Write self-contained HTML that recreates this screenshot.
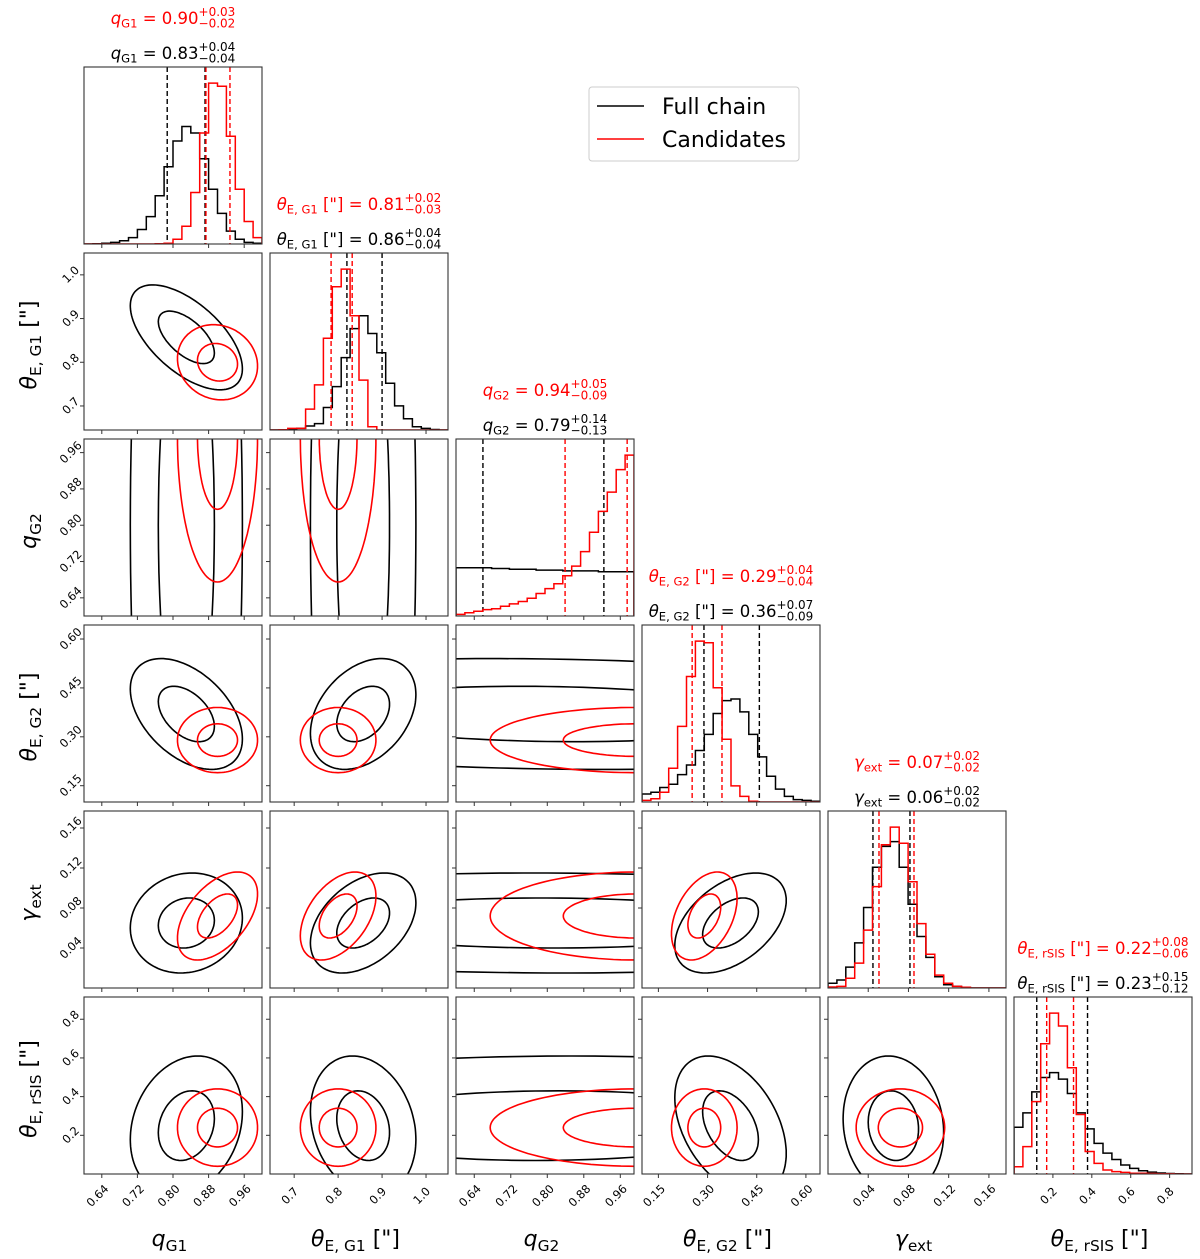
<!DOCTYPE html>
<html><head><meta charset="utf-8"><style>
body{margin:0;background:#fff}
svg{display:block;font-family:"DejaVu Sans","Liberation Sans",sans-serif}
</style></head><body>
<svg id="chart" width="1200" height="1259" viewBox="0 0 1200 1259" xmlns="http://www.w3.org/2000/svg"></svg>
<script>
// ---- data ----
const paramNames = ["qG1","thetaE_G1","qG2","thetaE_G2","gamma_ext","thetaE_rSIS"];
const ranges = [[0.6,1.0],[0.645,1.05],[0.6,0.99],[0.10,0.643],[0.0,0.177],[0.0,0.915]];
const ticks = [[0.64,0.72,0.80,0.88,0.96],[0.7,0.8,0.9,1.0],[0.64,0.72,0.80,0.88,0.96],[0.15,0.30,0.45,0.60],[0.04,0.08,0.12,0.16],[0.2,0.4,0.6,0.8]];
const tickLabels = [["0.64","0.72","0.80","0.88","0.96"],["0.7","0.8","0.9","1.0"],["0.64","0.72","0.80","0.88","0.96"],["0.15","0.30","0.45","0.60"],["0.04","0.08","0.12","0.16"],["0.2","0.4","0.6","0.8"]];
const histBlack = [
 [0,0.002,0.005,0.01,0.02,0.04,0.09,0.17,0.30,0.48,0.64,0.73,0.69,0.53,0.34,0.19,0.08,0.03,0.01,0.005],
 [0,0,0.002,0.01,0.025,0.04,0.14,0.27,0.45,0.63,0.71,0.60,0.48,0.29,0.15,0.07,0.02,0.01,0.003,0],
 [0.30,0.30,0.30,0.30,0.295,0.295,0.29,0.29,0.29,0.285,0.285,0.285,0.28,0.28,0.28,0.28,0.275,0.275,0.275,0.275],
 [0.05,0.06,0.09,0.11,0.17,0.23,0.32,0.42,0.55,0.63,0.64,0.56,0.42,0.28,0.16,0.08,0.035,0.015,0.01,0.005],
 [0.03,0.05,0.13,0.28,0.50,0.75,0.88,0.91,0.75,0.52,0.32,0.19,0.07,0.02,0.01,0.003,0,0,0,0],
 [0.29,0.38,0.51,0.60,0.63,0.59,0.50,0.38,0.28,0.19,0.13,0.09,0.056,0.035,0.02,0.012,0.006,0.003,0.001,0]
];
const histRed = [
 [0,0,0,0,0,0,0,0,0.002,0.005,0.03,0.11,0.32,0.69,1.0,0.98,0.67,0.34,0.14,0.04],
 [0,0.002,0.01,0.01,0.13,0.28,0.57,0.89,1.0,0.71,0.31,0.02,0,0,0,0,0,0,0,0],
 [0.01,0.02,0.03,0.04,0.045,0.06,0.075,0.09,0.11,0.14,0.17,0.20,0.25,0.31,0.40,0.52,0.65,0.77,0.91,1.0],
 [0.01,0.02,0.06,0.21,0.47,0.78,1.0,0.99,0.71,0.39,0.10,0.035,0.005,0,0,0,0,0,0,0],
 [0.006,0.01,0.06,0.155,0.36,0.63,0.89,1.0,0.90,0.66,0.40,0.21,0.08,0.03,0.01,0.005,0,0,0,0],
 [0.045,0.17,0.45,0.81,1.0,0.92,0.66,0.37,0.14,0.066,0.025,0.015,0.01,0.005,0.005,0.003,0.002,0.001,0,0]
];
const linesBlack = [[0.787,0.872],[0.820,0.900],[0.659,0.924],[0.289,0.458],[0.0447,0.0815],[0.117,0.378]];
const linesRed = [[0.874,0.928],[0.784,0.832],[0.839,0.975],[0.253,0.344],[0.0507,0.0855],[0.168,0.306]];
const titleValues = [["0.83","+0.04","−0.04","0.90","+0.03","−0.02"],["0.86","+0.04","−0.04","0.81","+0.02","−0.03"],["0.79","+0.14","−0.13","0.94","+0.05","−0.09"],["0.36","+0.07","−0.09","0.29","+0.04","−0.04"],["0.06","+0.02","−0.02","0.07","+0.02","−0.02"],["0.23","+0.15","−0.12","0.22","+0.08","−0.06"]];
const contourMeanBlack = [0.83,0.857,0.80,0.37,0.065,0.25];
const contourSigBlack = [0.063,0.06,0.5,0.085,0.025,0.18];
const contourMeanRed = [0.90,0.80,0.995,0.29,0.072,0.24];
const contourSigRed = [0.045,0.043,0.16,0.05,0.022,0.1];
const rhoBlack = {"0-1":-0.6,"0-2":0,"0-3":-0.45,"0-4":0.1,"0-5":0.2,"1-2":0,"1-3":0.35,"1-4":0.4,"1-5":-0.2,"2-3":-0.12,"2-4":-0.03,"2-5":0.05,"3-4":0.45,"3-5":-0.4,"4-5":-0.1};
const rhoRed = {"0-1":-0.1,"0-2":0,"0-3":0,"0-4":0.5,"0-5":0,"1-2":0,"1-3":0,"1-4":0.45,"1-5":0,"2-3":0,"2-4":0,"2-5":0,"3-4":0.4,"3-5":0,"4-5":0};
const contourLevels = [1,2];

// ---- layout ----
const NS="http://www.w3.org/2000/svg";
const svg=document.getElementById('chart');
const PX0=84, PY0=67, STEP=186, PW=178, PH=177;
function el(tag,attrs,parent){const e=document.createElementNS(NS,tag);for(const k in attrs)e.setAttribute(k,attrs[k]);(parent||svg).appendChild(e);return e;}
function xs(i,v){const r=ranges[i];return PX0+STEP*i+(v-r[0])/(r[1]-r[0])*PW;}
function ys(row,v){const r=ranges[row];return PY0+STEP*row+PH-(v-r[0])/(r[1]-r[0])*PH;}

const defs=el('defs',{});
for(let row=0;row<6;row++)for(let col=0;col<=row;col++){
  const cp=el('clipPath',{id:`c${row}${col}`},defs);
  el('rect',{x:PX0+STEP*col,y:PY0+STEP*row,width:PW,height:PH},cp);
}

function ellipsePath(col,row,mx,my,sx,sy,rho,k){
  let d='';const N=120;
  for(let n=0;n<=N;n++){const t=2*Math.PI*n/N;
    const vx=mx+k*sx*Math.cos(t);
    const vy=my+k*sy*(rho*Math.cos(t)+Math.sqrt(1-rho*rho)*Math.sin(t));
    d+=(n?'L':'M')+xs(col,vx).toFixed(1)+','+ys(row,vy).toFixed(1);}
  return d+'Z';
}

const mathLabels=[
  {base:"q",sub:"G1",tail:""},
  {base:"θ",sub:"E, G1",tail:" [\"]"},
  {base:"q",sub:"G2",tail:""},
  {base:"θ",sub:"E, G2",tail:" [\"]"},
  {base:"γ",sub:"ext",tail:""},
  {base:"θ",sub:"E, rSIS",tail:" [\"]"}
];
function labelTspans(t,i,fs){
  const L=mathLabels[i];
  const b=el('tspan',{'font-style':'italic'},t);b.textContent=L.base;
  const s=el('tspan',{'font-size':fs*0.7,dy:fs*0.22},t);s.textContent=L.sub;
  const r=el('tspan',{dy:-fs*0.22},t);r.textContent=L.tail+"\u00a0";
}

for(let row=0;row<6;row++){
  for(let col=0;col<=row;col++){
    const x0=PX0+STEP*col,y0=PY0+STEP*row;
    const g=el('g',{});
    
    
    const inner=el('g',{'clip-path':`url(#c${row}${col})`},g);
    if(row===col){
      const hs=[[histBlack[col],'#000',linesBlack[col]],[histRed[col],'#ff0000',linesRed[col]]];
      hs.forEach(([h,c,ls],si)=>{
        const r=ranges[col],bw=(r[1]-r[0])/h.length;
        const yb=y0+PH;const yv=v=>yb-v/1.1*PH;
        let d=`M${xs(col,r[0])},${yb}`;
        h.forEach((v,b)=>{d+=`L${xs(col,r[0]+b*bw).toFixed(1)},${yv(v).toFixed(1)}L${xs(col,r[0]+(b+1)*bw).toFixed(1)},${yv(v).toFixed(1)}`;});
        d+=`L${xs(col,r[1])},${yb}`;
        const p=el('path',{d,fill:'none',stroke:c,'stroke-width':1.5},inner);
        
        
        ls.forEach(v=>{
          const ln=el('line',{x1:xs(col,v),x2:xs(col,v),y1:y0,y2:y0+PH,stroke:c,'stroke-width':1.4,'stroke-dasharray':'5,3'},inner);
          
          
        });
      });
      const tv=titleValues[col];const cx=x0+PW/2;
      [[tv[3],tv[4],tv[5],'#ff0000',y0-43],[tv[0],tv[1],tv[2],'#000',y0-8]].forEach(([m,u,lw,c,yy],ti)=>{
        const tg=el('g',{});
        
        
        const t=el('text',{x:0,y:yy,'font-size':16.5,fill:c},tg);
        labelTspans(t,col,16.5);
        const tm=el('tspan',{},t);tm.textContent="= "+m;
        const w1=t.getComputedTextLength();
        const su=el('text',{x:w1,y:yy-8,'font-size':12,fill:c},tg);su.textContent=u;
        const sb=el('text',{x:w1,y:yy+3.5,'font-size':12,fill:c},tg);sb.textContent=lw;
        const w2=Math.max(su.getComputedTextLength(),sb.getComputedTextLength());
        tg.setAttribute('transform',`translate(${(cx-(w1+w2)/2).toFixed(1)},0)`);
      });
    } else {
      const key=`${col}-${row}`;
      [[contourMeanBlack,contourSigBlack,rhoBlack,'#000'],[contourMeanRed,contourSigRed,rhoRed,'#ff0000']].forEach(([m,s,rh,c],si)=>{
        contourLevels.forEach(k=>{
          const p=el('path',{d:ellipsePath(col,row,m[col],m[row],s[col],s[row],rh[key],k),fill:'none',stroke:c,'stroke-width':1.6},inner);
          
          
        });
      });
      ticks[row].forEach((v,ti)=>{
        const yy=ys(row,v);
        el('line',{x1:x0-4,x2:x0,y1:yy,y2:yy,stroke:'#333','stroke-width':1},g);
        if(col===0){
          const t=el('text',{x:x0-13,y:yy,'font-size':11.5,'text-anchor':'middle','dominant-baseline':'middle',transform:`rotate(-45 ${x0-13} ${yy})`});
          t.textContent=tickLabels[row][ti];
          
          
        }
      });
    }
    ticks[col].forEach((v,ti)=>{
      const xx=xs(col,v);
      el('line',{x1:xx,x2:xx,y1:y0+PH,y2:y0+PH+4,stroke:'#333','stroke-width':1},g);
      if(row===5){
        const cy=y0+PH+22;
        const t=el('text',{x:xx-4,y:cy,'font-size':11.5,'text-anchor':'middle','dominant-baseline':'middle',transform:`rotate(-45 ${xx-4} ${cy})`});
        t.textContent=tickLabels[col][ti];
        
        
      }
    });
    const fr=el('rect',{x:x0,y:y0,width:PW,height:PH,fill:'none',stroke:'#333','stroke-width':1.1},g);
    
    
  }
}
for(let i=0;i<6;i++){
  const t=el('text',{x:PX0+STEP*i+PW/2,y:1246,'font-size':22,'text-anchor':'middle'});
  labelTspans(t,i,22);
  
  
  if(i>0){
    const cy=PY0+STEP*i+PH/2;
    const ty=el('text',{x:36,y:cy,'font-size':22,'text-anchor':'middle',transform:`rotate(-90 36 ${cy})`});
    labelTspans(ty,i,22);
    
    
  }
}
const lg=el('g',{});


el('rect',{x:589,y:87,width:210,height:74,rx:3,fill:'#fff',stroke:'#ccc','stroke-width':1},lg);
[["Full chain",'#000',106],["Candidates",'#ff0000',139]].forEach(([n,c,yy])=>{
  const e=el('g',{},lg);
  
  
  el('line',{x1:597,x2:644,y1:yy,y2:yy,stroke:c,'stroke-width':1.5},e);
  const t=el('text',{x:662,y:yy+8,'font-size':22},e);t.textContent=n;
});
</script>
</body></html>
